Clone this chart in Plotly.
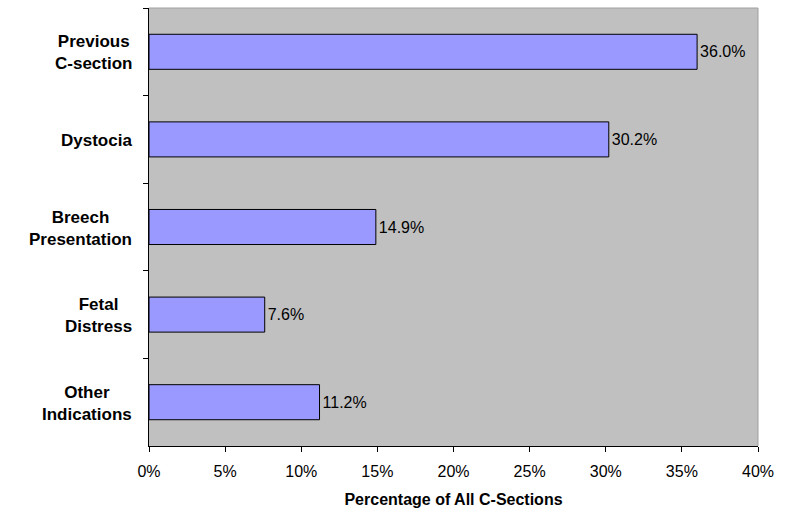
import plotly.graph_objects as go

categories = ["Previous<br>C-section", "Dystocia", "Breech<br>Presentation", "Fetal<br>Distress", "Other<br>Indications"]
values = [0.360, 0.302, 0.149, 0.076, 0.112]
labels = ["36.0%", "30.2%", "14.9%", "7.6%", "11.2%"]

FONT = "Liberation Sans, Arial, sans-serif"

fig = go.Figure()
fig.add_trace(go.Bar(
    y=categories, x=values, orientation="h",
    width=0.4,
    marker=dict(color="#9999FF", line=dict(color="black", width=1)),
    text=labels, textposition="outside", cliponaxis=False,
    textfont=dict(family=FONT, size=16, color="black"),
    hoverinfo="skip",
))

fig.update_layout(
    width=801, height=513,
    margin=dict(l=149, r=43, t=8, b=67),
    paper_bgcolor="white", plot_bgcolor="#C0C0C0",
    showlegend=False,
    font=dict(family=FONT, size=16, color="black"),
    xaxis=dict(
        range=[0, 0.4], dtick=0.05, tickformat=".0%",
        showgrid=False, zeroline=False,
        showline=True, linecolor="black", linewidth=1,
        ticks="outside", ticklen=5, tickcolor="black",
        ticklabelstandoff=6,
        tickfont=dict(family=FONT, size=16, color="black"),
        title=dict(text="<b>Percentage of All C-Sections</b>", font=dict(family=FONT, size=16), standoff=14),
    ),
    yaxis=dict(
        autorange="reversed",
        showgrid=False, zeroline=False,
        showline=True, linecolor="black", linewidth=1,
        ticks="outside", ticklen=5, tickcolor="black", tickson="boundaries",
        showticklabels=False,
    ),
)

for c in categories:
    fig.add_annotation(
        x=0, xref="paper", y=c, yref="y", xanchor="right", yanchor="middle",
        xshift=-15, yshift=-1, text="<b>" + c + "</b>", showarrow=False, align="center",
        font=dict(family=FONT, size=17, color="black"),
    )

fig.add_shape(type="line", xref="x domain", yref="y domain", x0=0, x1=1, y0=1, y1=1,
              line=dict(color="#A0A0A0", width=1))
fig.add_shape(type="line", xref="x domain", yref="y domain", x0=1, x1=1, y0=0, y1=1,
              line=dict(color="#A0A0A0", width=1))

fig.write_html("out.html")
